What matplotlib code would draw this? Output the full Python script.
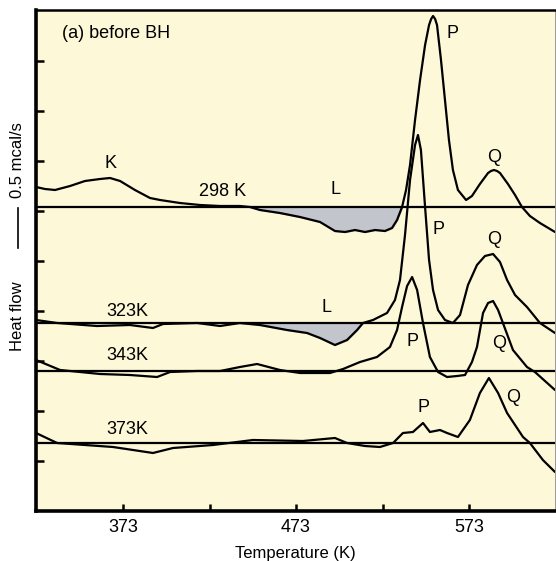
import matplotlib
matplotlib.use("Agg")
import matplotlib.pyplot as plt
import numpy as np

plt.rcParams["font.family"] = ["Liberation Sans", "DejaVu Sans"]

# curve 298 K (temperature in K, heat flow in tick units)
t_298 = [322.7, 327.9, 333.7, 342.4, 351.0, 359.7, 365.5, 371.3, 379.9, 388.6, 394.4,
         405.9, 417.5, 429.1, 440.6, 446.4, 452.2, 463.7, 475.3, 486.9, 495.5, 501.3,
         507.1, 512.9, 518.7, 524.4, 528.5, 531.4, 534.3, 536.6, 538.9, 541.8, 544.7,
         547.6, 549.9, 551.1, 552.2, 553.4, 554.5, 556.8, 559.1, 561.4, 563.7, 566.6,
         571.3, 574.7, 579.3, 584.0, 585.7, 587.4, 589.2, 590.9, 595.5, 599.6, 603.6,
         608.2, 614.0, 622.7]
h_298 = [6.48, 6.44, 6.42, 6.50, 6.60, 6.64, 6.66, 6.60, 6.42, 6.26, 6.22,
         6.16, 6.12, 6.10, 6.10, 6.08, 6.02, 5.96, 5.88, 5.78, 5.60, 5.58,
         5.62, 5.58, 5.62, 5.60, 5.66, 5.82, 6.08, 6.42, 6.92, 7.82, 8.62,
         9.32, 9.72, 9.84, 9.90, 9.84, 9.72, 9.02, 8.22, 7.42, 6.82, 6.42,
         6.22, 6.30, 6.54, 6.76, 6.80, 6.82, 6.80, 6.76, 6.54, 6.32, 6.08,
         5.90, 5.76, 5.58]

# curve 323 K
t_323 = [322.7, 334.9, 358.0, 377.0, 390.3, 396.1, 415.8, 429.1, 440.6, 452.2, 467.8,
         479.4, 486.9, 495.5, 502.5, 508.3, 511.7, 517.5, 525.6, 530.2, 533.1, 536.0,
         538.9, 541.8, 543.5, 545.2, 547.6, 549.9, 552.2, 555.1, 559.1, 563.7, 567.8,
         572.4, 577.6, 582.2, 586.9, 590.9, 595.0, 599.6, 606.5, 614.0, 622.7]
h_323 = [3.82, 3.76, 3.70, 3.72, 3.66, 3.74, 3.76, 3.70, 3.76, 3.72, 3.62,
         3.56, 3.46, 3.32, 3.42, 3.62, 3.76, 3.82, 3.96, 4.22, 4.62, 5.52,
         6.62, 7.32, 7.52, 7.22, 6.08, 5.02, 4.42, 4.02, 3.82, 3.76, 3.92,
         4.52, 4.92, 5.10, 5.14, 4.98, 4.62, 4.32, 4.08, 3.76, 3.56]

# curve 343 K
t_343 = [322.7, 336.6, 359.7, 377.0, 392.7, 400.2, 415.8, 429.1, 440.6, 450.5, 463.7,
         475.3, 492.6, 500.2, 510.0, 519.8, 527.3, 531.4, 534.3, 537.2, 540.1, 543.0,
         546.4, 550.4, 555.1, 560.3, 566.1, 570.7, 574.7, 577.6, 581.1, 584.0, 586.9,
         589.8, 592.6, 598.4, 606.5, 611.1, 622.7]
h_343 = [3.02, 2.82, 2.74, 2.72, 2.68, 2.78, 2.80, 2.80, 2.88, 2.94, 2.82,
         2.76, 2.76, 2.84, 2.98, 3.08, 3.28, 3.62, 4.08, 4.50, 4.68, 4.42,
         3.76, 3.08, 2.78, 2.68, 2.70, 2.72, 2.98, 3.28, 3.96, 4.16, 4.20,
         4.02, 3.76, 3.22, 2.88, 2.78, 2.42]

# curve 373 K
t_373 = [322.7, 334.9, 367.2, 390.3, 401.9, 425.0, 448.1, 477.0, 495.5, 502.5, 512.9,
         521.5, 529.1, 534.8, 540.6, 546.4, 550.4, 556.2, 560.3, 566.6, 573.5, 579.3,
         584.5, 589.8, 595.0, 604.2, 608.2, 615.7, 622.7]
h_373 = [1.56, 1.36, 1.28, 1.16, 1.26, 1.32, 1.42, 1.40, 1.46, 1.36, 1.30,
         1.28, 1.36, 1.56, 1.58, 1.76, 1.58, 1.62, 1.56, 1.48, 1.82, 2.36,
         2.66, 2.36, 1.96, 1.48, 1.36, 1.02, 0.78]

baselines = [6.08, 3.76, 2.80, 1.36]
xticks_major = [373, 473, 573]
xticks_minor = [423, 523]

bg = "#fdf8d8"
shade = "#c2c5cc"

fig = plt.figure(figsize=(5.56, 5.61), dpi=100)
ax = fig.add_axes([36 / 556, 50 / 561, 519 / 556, 501 / 561])
ax.set_facecolor(bg)

curves = [(t_298, h_298), (t_323, h_323), (t_343, h_343), (t_373, h_373)]
for (t, h), b in zip(curves, baselines):
    ax.axhline(b, color="black", lw=1.6, zorder=2)
    ax.plot(t, h, color="black", lw=1.6, zorder=3,
            solid_joinstyle="round", solid_capstyle="round")

# grey endothermic area L
t = np.array(t_298); h = np.array(h_298)
ax.fill_between(t, h, baselines[0], where=(t >= 446) & (t <= 535) & (h <= baselines[0] + 0.01),
                interpolate=True, color=shade, zorder=1)
t = np.array(t_323); h = np.array(h_323)
ax.fill_between(t, h, baselines[1], where=(t >= 452) & (t <= 512) & (h <= baselines[1] + 0.01),
                interpolate=True, color=shade, zorder=1)

fs = 13
ax.text(338, 9.56, "(a) before BH", fontsize=fs, va="center", ha="left")
labels = [
    ("K", 365.5, 6.96), ("298 K", 430.8, 6.40), ("L", 496.1, 6.44),
    ("P", 563.7, 9.56), ("Q", 587.4, 7.06),
    ("P", 555.6, 5.64), ("Q", 587.4, 5.42),
    ("323K", 375.3, 4.00), ("L", 490.9, 4.08),
    ("343K", 375.3, 3.10), ("P", 540.1, 3.38), ("Q", 590.3, 3.36),
    ("373K", 375.3, 1.62), ("P", 546.4, 2.08), ("Q", 598.4, 2.28),
]
for s, x, y in labels:
    ax.text(x, y, s, fontsize=fs, ha="center", va="center")

ax.set_xlim(322.7, 622.7)
ax.set_ylim(0, 10.02)
ax.set_xticks(xticks_major)
ax.set_xticks(xticks_minor, minor=True)
ax.set_yticks(range(1, 10))
ax.set_yticklabels([])
ax.tick_params(axis="x", which="both", direction="in", length=5, width=1.8, labelsize=13, pad=6)
ax.tick_params(axis="y", direction="in", length=6, width=1.8)

ax.spines["left"].set_linewidth(2.6)
ax.spines["bottom"].set_linewidth(2.6)
ax.spines["top"].set_linewidth(1.8)
ax.spines["right"].set_linewidth(0.6)
ax.spines["right"].set_color("#888888")

ax.set_xlabel("Temperature (K)", fontsize=12, labelpad=7)

# y label with 0.5 mcal/s scale bar
fig.text(18 / 556, 1 - 316 / 561, "Heat flow", rotation=90, fontsize=12, ha="center", va="center")
fig.text(18 / 556, 1 - 160 / 561, "0.5 mcal/s", rotation=90, fontsize=12, ha="center", va="center")
fig.add_artist(plt.Line2D([18 / 556, 18 / 556], [1 - 208 / 561, 1 - 248 / 561], color="black", lw=1.2))

fig.savefig("out.png", dpi=100)
